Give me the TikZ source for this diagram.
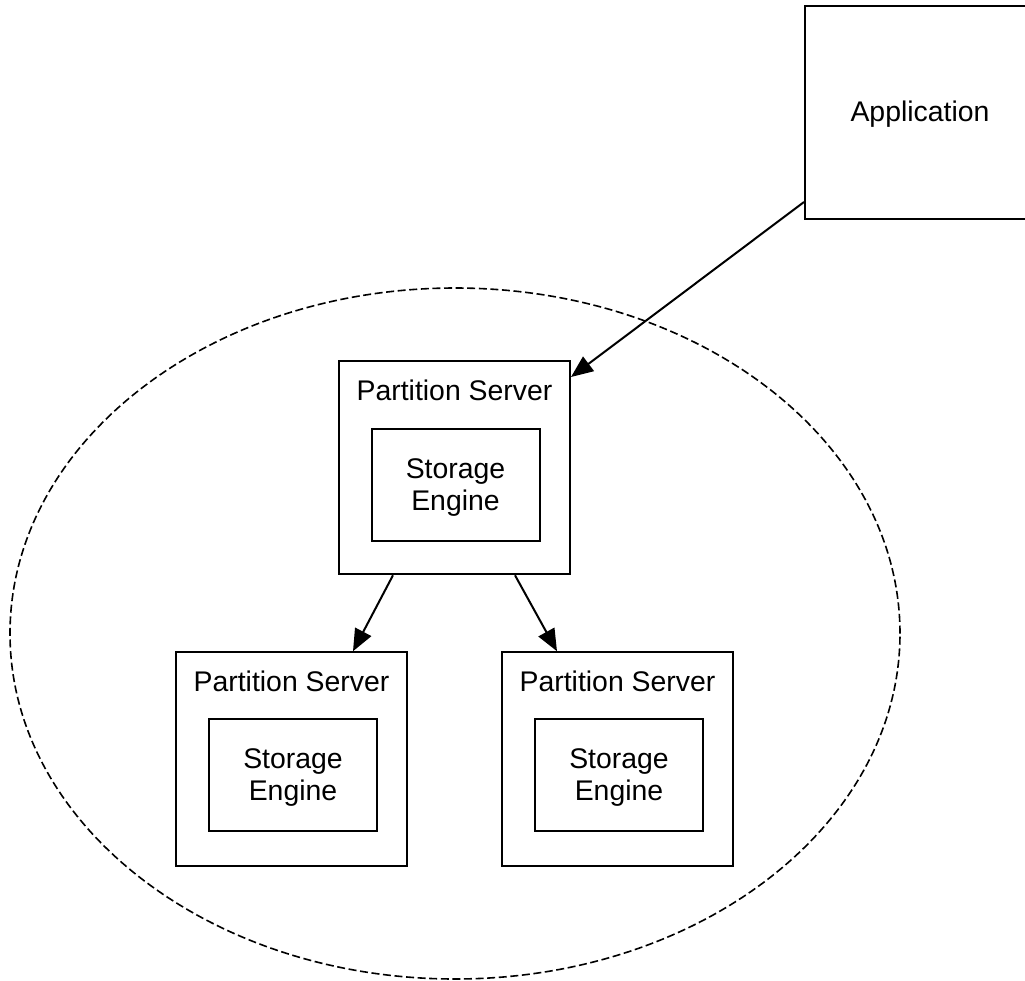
\documentclass[tikz,border=0pt]{standalone}
\usepackage{fontspec}
\setmainfont{Liberation Sans}
\usetikzlibrary{arrows.meta,shapes.geometric}
\begin{document}
\begin{tikzpicture}[x=0.5pt,y=-0.5pt,
  font=\fontsize{14.2}{16}\selectfont,
  box/.style={draw,line width=1pt,rectangle,inner sep=0pt},
  server/.style={box,minimum width=115.5pt,minimum height=106.75pt},
  engine/.style={box,minimum width=84pt,minimum height=56pt},
  link/.style={draw,line width=1pt,-{Triangle[length=11pt,width=9pt]}},
  cluster/.style={draw,line width=0.8pt,dash pattern=on 4pt off 1.8pt}]
\useasboundingbox (0,0) rectangle (1025,981);

% dashed boundary of the storage cluster
\node[cluster,ellipse,minimum width=445pt,minimum height=345.5pt,inner sep=0pt] (cl) at (455,633.5) {};

% client application (runs off the right edge)
\node[box,minimum width=115pt,minimum height=106.5pt] (app) at (920,112.5) {};
\node (appt) at ([yshift=-1pt]app.center) {Application};

% primary partition server
\node[server] (ps1) at (454.5,467.5) {};
\node (ps1t) at (454.5,390) {Partition Server};
\node[engine] (se1) at (455.5,485) {};
\node[align=center] (se1t) at ([yshift=-1.5pt]se1.center) {Storage\\Engine};

% replica partition servers
\node[server] (ps2) at (291.5,759) {};
\node (ps2t) at (291.5,681) {Partition Server};
\node[engine] (se2) at (293,775) {};
\node[align=center] (se2t) at ([yshift=-1.5pt]se2.center) {Storage\\Engine};

\node[server] (ps3) at (617.5,759) {};
\node (ps3t) at (617.5,681) {Partition Server};
\node[engine] (se3) at (619,775) {};
\node[align=center] (se3t) at ([yshift=-1.5pt]se3.center) {Storage\\Engine};

% connectors
\draw[link] ([yshift=-44.75pt]app.west) -- ([yshift=45.25pt]ps1.east);
\draw[link] ([xshift=-30.75pt]ps1.south) -- ([xshift=30.75pt]ps2.north);
\draw[link] ([xshift=30.25pt]ps1.south) -- ([xshift=-30.25pt]ps3.north);
\end{tikzpicture}
\end{document}
